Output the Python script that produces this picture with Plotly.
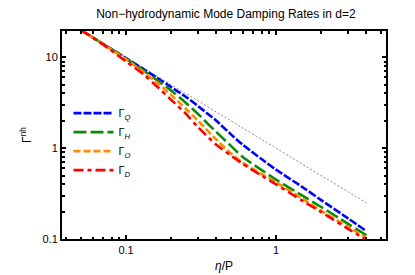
import plotly.graph_objects as go

eta_p = [0.05, 0.07, 0.1, 0.13, 0.16, 0.2, 0.25, 0.3, 0.4, 0.5, 0.6, 0.8, 1.0, 1.5, 2.0, 3.0, 4.0]
gamma_Q = [20, 14.1, 9.8, 7.46, 6.0, 4.7, 3.68, 2.93, 2.0, 1.42, 1.09, 0.76, 0.58, 0.373, 0.268, 0.17, 0.122]
gamma_H = [20, 14.1, 9.7, 7.23, 5.63, 4.3, 3.16, 2.4, 1.5, 1.06, 0.80, 0.575, 0.45, 0.30, 0.225, 0.148, 0.110]
gamma_O = [20, 14.0, 9.5, 6.92, 5.31, 3.85, 2.72, 2.03, 1.24, 0.88, 0.69, 0.522, 0.42, 0.277, 0.205, 0.137, 0.103]
gamma_D = [20, 13.9, 9.0, 6.54, 4.81, 3.4, 2.4, 1.72, 1.09, 0.83, 0.672, 0.50, 0.40, 0.263, 0.198, 0.13, 0.098]
ref_x = [0.05, 4.0]
ref_y = [20.0, 0.25]

x_ticks = [0.1, 1]
x_ticktext = ["0.1", "1"]
y_ticks = [0.1, 1, 10]
y_ticktext = ["0.1", "1", "10"]
x_minor = [0.04, 0.05, 0.06, 0.07, 0.08, 0.09, 0.2, 0.3, 0.4, 0.5, 0.6, 0.7, 0.8, 0.9, 2, 3, 4, 5]
y_minor = [0.2, 0.3, 0.4, 0.5, 0.6, 0.7, 0.8, 0.9, 2, 3, 4, 5, 6, 7, 8, 9, 20]

FONT = "Liberation Sans, Arial, sans-serif"

fig = go.Figure()
fig.add_trace(go.Scatter(x=ref_x, y=ref_y, mode="lines", showlegend=False,
                         line=dict(color="#8c8c8c", width=1, dash="2px,2px")))
series = [
    ("Γ<sub><i>Q</i></sub>", gamma_Q, "#0000ff", "8px,2px"),
    ("Γ<sub><i>H</i></sub>", gamma_H, "#0a8a0a", "13px,4px"),
    ("Γ<sub><i>O</i></sub>", gamma_O, "#ff8c00", "7px,3px"),
    ("Γ<sub><i>D</i></sub>", gamma_D, "#ff0000", "10px,4px,4px,4px"),
]
for name, ys, col, dash in series:
    fig.add_trace(go.Scatter(x=eta_p, y=ys, mode="lines", name=name,
                             line=dict(color=col, width=2.6, dash=dash, shape="spline", smoothing=0.8)))

axis_common = dict(
    type="log", showgrid=False, zeroline=False, showline=True, linecolor="black",
    linewidth=2, mirror="allticks", ticks="inside", ticklen=4, tickcolor="black",
    tickwidth=1.5, tickfont=dict(family=FONT, size=11, color="black"),
)
fig.update_xaxes(**axis_common, range=[-1.427, 0.733], tickmode="array",
                 tickvals=x_ticks, ticktext=x_ticktext,
                 minor=dict(ticks="inside", ticklen=2.5, tickcolor="black", tickwidth=1.5,
                            tickmode="array", tickvals=x_minor),
                 title=dict(text="<i>η</i>/P", standoff=6,
                            font=dict(family=FONT, size=12, color="black")))
fig.update_yaxes(**axis_common, range=[-1, 1.29], tickmode="array",
                 tickvals=y_ticks, ticktext=y_ticktext,
                 minor=dict(ticks="inside", ticklen=2.5, tickcolor="black", tickwidth=1.5,
                            tickmode="array", tickvals=y_minor),
                 title=dict(text="Γ<sup>nh</sup>", standoff=8,
                            font=dict(family=FONT, size=12, color="black")))

fig.update_layout(
    width=415, height=275,
    margin=dict(l=54, r=37, t=23, b=38),
    paper_bgcolor="white", plot_bgcolor="white",
    title=dict(text="Non−hydrodynamic Mode Damping Rates in d=2", x=0.525, xanchor="center",
               y=0.995, yanchor="top",
               font=dict(family=FONT, size=12, color="black")),
    legend=dict(x=0.02, y=0.675, xanchor="left", yanchor="top", bgcolor="rgba(0,0,0,0)",
                font=dict(family=FONT, size=11, color="black"),
                itemwidth=40, tracegroupgap=0),
)

fig.write_html("out.html")
